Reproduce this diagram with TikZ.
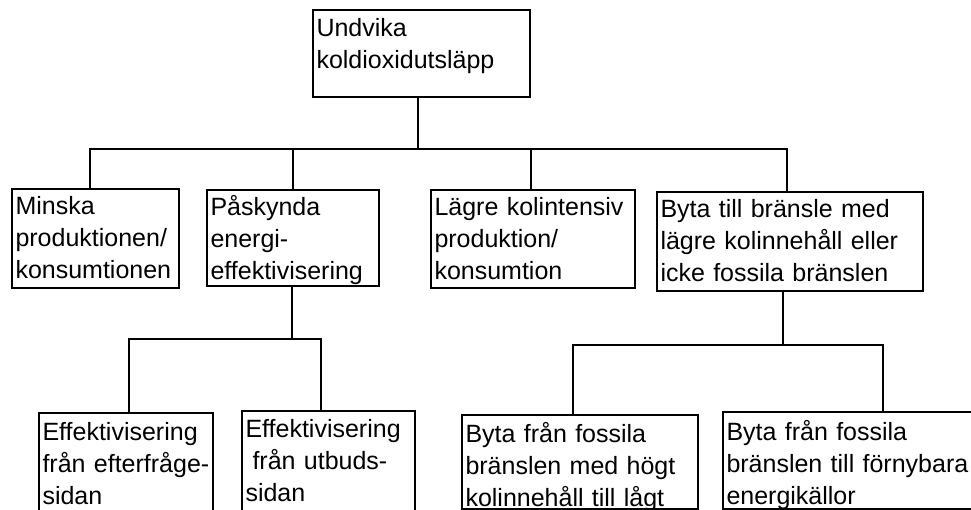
\documentclass[tikz,border=0pt]{standalone}
\usepackage{fontspec}
\setmainfont{Liberation Sans}
\tikzset{
  boks/.style={draw, line width=1.5pt, anchor=north west, outer sep=0pt,
    inner xsep=2.625pt, inner ysep=0pt, align=left,
    font=\fontsize{18.75}{24}\selectfont,
    execute at begin node={\hyphenpenalty=10000 }},
  link/.style={line width=1.5pt}
}
\begin{document}
\begin{tikzpicture}[x=0.75pt,y=-0.75pt]
        % Bakgrund
        \fill[white] (0,0) rectangle (971,510);
        \useasboundingbox (0,0) rectangle (971,510);

        % Rutor
        \node[boks, text width=157.5pt, text height=20.25pt, text depth=45pt] (top) at (313,10) {Undvika\\koldioxidutsläpp};
        \node[boks, text width=120pt, text height=18.75pt, text depth=55.5pt] (minska) at (12,189) {Minska\\produktionen/\\konsumtionen};
        \node[boks, text width=123.75pt, text height=18.75pt, text depth=53.25pt] (paskynda) at (207,190) {Påskynda\\energi-\\effektivisering};
        \node[boks, text width=147.75pt, text height=18.75pt, text depth=54.75pt] (lagre) at (431,190) {Lägre kolintensiv\\produktion/\\konsumtion};
        \node[boks, text width=194.25pt, text height=18.75pt, text depth=55.5pt] (byta) at (657,192) {Byta till bränsle med\\lägre kolinnehåll eller\\icke fossila bränslen};

        \node[boks, text width=125.25pt, text height=20.25pt, text depth=56.25pt] (eff1) at (39,413) {Effektivisering\\från efterfråge-\\sidan};
        \node[boks, text width=124.5pt, text height=19.5pt, text depth=60pt] (eff2) at (242,411) {Effektivisering\\\hspace*{0.28em}från utbuds-\\sidan};
        \node[boks, text width=171.75pt, text height=20.25pt, text depth=50.25pt] (fossil1) at (462,415) {Byta från fossila\\bränslen med högt\\kolinnehåll till lågt};
        \node[boks, text width=189.75pt, text height=21pt, text depth=51.75pt] (fossil2) at (723,412) {Byta från fossila\\bränslen till förnybara\\energikällor};

        % Linjer, första nivån
        \coordinate (hub1) at (418,149);
        \draw[link] (top.south -| hub1) -- (hub1);
        \draw[link] ([xshift=-4.125pt]minska.north) |- (hub1) -| ([xshift=-2.25pt]byta.north);
        \draw[link] (paskynda.north) -- (paskynda.north |- hub1);
        \draw[link] ([xshift=-1.5pt]lagre.north) -- ([xshift=-1.5pt]lagre.north |- hub1);

        % Linjer, andra nivån
        \coordinate (hub2) at (292,339);
        \draw[link] (paskynda.south -| hub2) -- (hub2);
        \draw[link] ([xshift=2.25pt]eff1.north) |- (hub2) -| ([xshift=-5.625pt]eff2.north);

        \coordinate (hub3) at (783,345);
        \draw[link] (byta.south -| hub3) -- (hub3);
        \draw[link] ([xshift=-5.25pt]fossil1.north) |- (hub3) -| ([xshift=22.5pt]fossil2.north);

    \end{tikzpicture}
\end{document}
